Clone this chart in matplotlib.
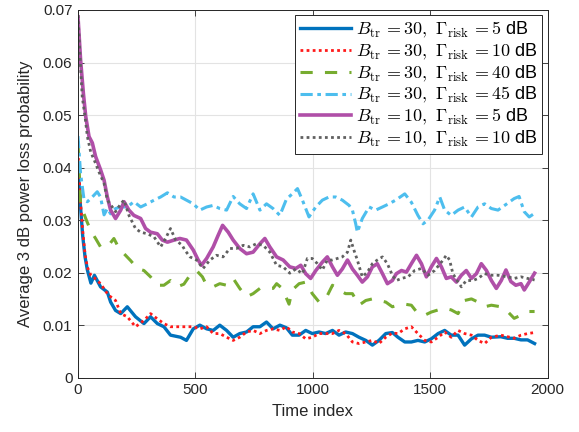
import numpy as np
import matplotlib
matplotlib.use("Agg")
import matplotlib.pyplot as plt

# ==== DATA ====
t_blue = [0, 10, 20, 30, 40, 55, 70, 96, 125, 139, 160, 182, 210, 245, 281, 309, 338, 366, 394, 437,
          462, 491, 519, 548, 576, 604, 633, 661, 689, 718, 746, 775, 803, 831, 860, 888, 913, 942, 970,
          998, 1027, 1055, 1084, 1112, 1140, 1169, 1197, 1226, 1254, 1282, 1311, 1339, 1363, 1392, 1420,
          1448, 1477, 1505, 1534, 1562, 1590, 1619, 1647, 1676, 1704, 1732, 1761, 1801, 1830, 1858, 1887,
          1915, 1945]
p_blue = [0.040, 0.033, 0.027, 0.023, 0.0205, 0.018, 0.0195, 0.0173, 0.0163, 0.0144, 0.0128, 0.0122,
          0.0135, 0.0116, 0.0103, 0.0116, 0.0103, 0.0097, 0.0081, 0.0077, 0.0071, 0.0093, 0.0100, 0.0093,
          0.0090, 0.0100, 0.0090, 0.0077, 0.0084, 0.0087, 0.0097, 0.0097, 0.0106, 0.0093, 0.0100, 0.0095,
          0.0081, 0.0081, 0.0090, 0.0084, 0.0087, 0.0084, 0.0090, 0.0081, 0.0087, 0.0084, 0.0077, 0.0071,
          0.0062, 0.0071, 0.0084, 0.0086, 0.0077, 0.0068, 0.0068, 0.0071, 0.0068, 0.0074, 0.0084, 0.0090,
          0.0081, 0.0081, 0.0062, 0.0074, 0.0081, 0.0081, 0.0077, 0.0078, 0.0075, 0.0075, 0.0072, 0.0072,
          0.0065]

t_red = t_blue
p_red = [0.043, 0.034, 0.028, 0.0235, 0.021, 0.0195, 0.019, 0.0179, 0.016, 0.0154, 0.0147, 0.0122,
         0.0116, 0.0097, 0.0109, 0.0122, 0.0112, 0.0103, 0.0097, 0.0097, 0.0097, 0.0097, 0.0093, 0.0097,
         0.0084, 0.0084, 0.0077, 0.0071, 0.0077, 0.0087, 0.0090, 0.0084, 0.0090, 0.0093, 0.0090, 0.0097,
         0.0087, 0.0084, 0.0074, 0.0077, 0.0084, 0.0084, 0.0084, 0.0090, 0.0084, 0.0068, 0.0065, 0.0068,
         0.0071, 0.0065, 0.0077, 0.0085, 0.0084, 0.0093, 0.0097, 0.0084, 0.0071, 0.0068, 0.0077, 0.0087,
         0.0077, 0.0090, 0.0084, 0.0081, 0.0071, 0.0065, 0.0077, 0.0081, 0.0078, 0.0075, 0.0081, 0.0084,
         0.0086]

t_green = [0, 11, 33, 54, 75, 96, 125, 153, 175, 196, 224, 253, 281, 309, 338, 366, 394, 423, 451, 477,
           505, 530, 548, 576, 604, 633, 661, 689, 718, 746, 775, 803, 831, 846, 870, 899, 913, 942, 970,
           998, 1027, 1055, 1084, 1112, 1140, 1169, 1197, 1226, 1254, 1282, 1311, 1339, 1363, 1392, 1420,
           1448, 1477, 1505, 1534, 1562, 1590, 1619, 1647, 1676, 1704, 1732, 1761, 1801, 1830, 1858, 1887,
           1915, 1945]
p_green = [0.045, 0.033, 0.0303, 0.028, 0.0265, 0.0249, 0.0249, 0.0265, 0.0246, 0.0236, 0.0223, 0.0208,
           0.0204, 0.0192, 0.0176, 0.0176, 0.0185, 0.0173, 0.0178, 0.0195, 0.0204, 0.0192, 0.0176, 0.0173,
           0.0179, 0.0176, 0.0189, 0.0170, 0.0154, 0.0160, 0.0170, 0.0170, 0.0170, 0.0179, 0.0170, 0.0140,
           0.0167, 0.0179, 0.0182, 0.0160, 0.0144, 0.0150, 0.0176, 0.0167, 0.0160, 0.0160, 0.0138, 0.0147,
           0.0150, 0.0147, 0.0144, 0.0135, 0.0138, 0.0140, 0.0138, 0.0122, 0.0119, 0.0125, 0.0129, 0.0132,
           0.0129, 0.0122, 0.0147, 0.0150, 0.0144, 0.0135, 0.0138, 0.0135, 0.0126, 0.0113, 0.0119, 0.0126,
           0.0126]

t_cyan = [0, 11, 26, 40, 61, 82, 96, 111, 125, 139, 160, 182, 210, 238, 267, 295, 324, 352, 381, 409,
          437, 462, 491, 519, 548, 576, 604, 633, 661, 689, 718, 746, 775, 803, 831, 860, 888, 913, 935,
          956, 984, 1013, 1041, 1069, 1098, 1126, 1155, 1169, 1183, 1190, 1211, 1240, 1268, 1297, 1325,
          1353, 1392, 1420, 1448, 1470, 1491, 1519, 1541, 1562, 1590, 1619, 1647, 1676, 1704, 1732, 1761,
          1789, 1830, 1858, 1879, 1901, 1922, 1945]
p_cyan = [0.046, 0.0389, 0.0338, 0.0335, 0.0344, 0.0354, 0.0344, 0.031, 0.0322, 0.0312, 0.0322, 0.0325,
          0.0325, 0.0335, 0.0325, 0.0331, 0.0338, 0.0344, 0.0352, 0.0344, 0.0344, 0.0338, 0.0331, 0.0319,
          0.0325, 0.0328, 0.0322, 0.0319, 0.0345, 0.0331, 0.0322, 0.0350, 0.0319, 0.0331, 0.0322, 0.0309,
          0.0340, 0.0350, 0.0360, 0.0338, 0.0306, 0.0325, 0.0338, 0.0344, 0.0344, 0.0338, 0.0328, 0.0319,
          0.0293, 0.0277, 0.0303, 0.0325, 0.0319, 0.0325, 0.0331, 0.0338, 0.0350, 0.0334, 0.0309, 0.0293,
          0.0300, 0.0319, 0.0344, 0.0319, 0.0309, 0.0319, 0.0325, 0.0306, 0.0325, 0.0331, 0.0322, 0.0319,
          0.0332, 0.0341, 0.0345, 0.0316, 0.0306, 0.0313]

t_mag = [0, 11, 23, 33, 47, 61, 75, 96, 111, 125, 139, 160, 182, 196, 217, 238, 267, 288, 309, 338, 359,
         381, 409, 434, 462, 491, 512, 526, 548, 576, 597, 616, 640, 661, 689, 718, 746, 775, 796, 817, 846,
         874, 902, 928, 949, 970, 991, 1013, 1041, 1062, 1084, 1105, 1126, 1148, 1169, 1190, 1211, 1233,
         1254, 1275, 1297, 1318, 1339, 1356, 1378, 1399, 1420, 1442, 1463, 1484, 1505, 1527, 1548, 1569,
         1590, 1612, 1633, 1654, 1676, 1697, 1718, 1740, 1761, 1782, 1803, 1823, 1844, 1865, 1887, 1901,
         1922, 1945]
p_mag = [0.0687, 0.0605, 0.0541, 0.0497, 0.0459, 0.0447, 0.0421, 0.0396, 0.0376, 0.0344, 0.0319, 0.0303,
         0.0319, 0.0335, 0.0319, 0.0309, 0.0303, 0.0284, 0.0277, 0.0274, 0.0262, 0.0258, 0.0262, 0.0265,
         0.0262, 0.0243, 0.0224, 0.0214, 0.0227, 0.0249, 0.0271, 0.0290, 0.0277, 0.0262, 0.0246, 0.0236,
         0.0239, 0.0255, 0.0265, 0.0249, 0.0230, 0.0224, 0.0211, 0.0208, 0.0214, 0.0198, 0.0189, 0.0204,
         0.0220, 0.0230, 0.0211, 0.0195, 0.0207, 0.0224, 0.0207, 0.0195, 0.0182, 0.0192, 0.0211, 0.0217,
         0.0198, 0.0179, 0.0185, 0.0198, 0.0204, 0.0201, 0.0217, 0.0233, 0.0217, 0.0192, 0.0211, 0.0227,
         0.0211, 0.0189, 0.0192, 0.0182, 0.0195, 0.0204, 0.0189, 0.0198, 0.0217, 0.0204, 0.0185, 0.0170,
         0.0185, 0.0205, 0.0183, 0.0176, 0.0179, 0.0167, 0.0182, 0.0199]

t_gray = [0, 11, 18, 30, 40, 54, 75, 89, 111, 125, 146, 160, 182, 196, 217, 245, 267, 295, 324, 352, 373,
          394, 416, 444, 455, 477, 505, 533, 562, 590, 618, 647, 675, 704, 732, 760, 789, 817, 846, 874,
          902, 928, 956, 977, 998, 1020, 1041, 1062, 1084, 1105, 1126, 1148, 1162, 1176, 1190, 1211, 1233,
          1254, 1275, 1297, 1318, 1339, 1356, 1378, 1406, 1434, 1463, 1491, 1519, 1548, 1569, 1583, 1597,
          1619, 1633, 1654, 1683, 1704, 1732, 1761, 1789, 1830, 1858, 1887, 1915, 1945]
p_gray = [0.069, 0.0592, 0.0535, 0.0497, 0.0459, 0.043, 0.0408, 0.0392, 0.037, 0.0338, 0.0325, 0.0316,
          0.0331, 0.0338, 0.0309, 0.0284, 0.0277, 0.0274, 0.0268, 0.0249, 0.0265, 0.0284, 0.0262, 0.0252,
          0.0243, 0.0230, 0.0224, 0.0208, 0.0224, 0.0233, 0.0230, 0.0246, 0.0246, 0.0252, 0.0249, 0.0255,
          0.0252, 0.0239, 0.0214, 0.0211, 0.0199, 0.0207, 0.0198, 0.0227, 0.0227, 0.0217, 0.0205, 0.0224,
          0.0224, 0.0227, 0.0230, 0.0239, 0.0262, 0.0242, 0.0224, 0.0192, 0.0201, 0.0217, 0.0224, 0.0230,
          0.0217, 0.0195, 0.0185, 0.0189, 0.0192, 0.0204, 0.0208, 0.0195, 0.0204, 0.0220, 0.0233, 0.0224,
          0.0198, 0.0182, 0.0173, 0.0185, 0.0185, 0.0189, 0.0198, 0.0195, 0.0195, 0.0192, 0.0189, 0.0192,
          0.0189, 0.0186]

labels = [
    r"$B_{\mathrm{tr}}\,=30,\ \Gamma_{\mathrm{risk}}\,=5$ dB",
    r"$B_{\mathrm{tr}}\,=30,\ \Gamma_{\mathrm{risk}}\,=10$ dB",
    r"$B_{\mathrm{tr}}\,=30,\ \Gamma_{\mathrm{risk}}\,=40$ dB",
    r"$B_{\mathrm{tr}}\,=30,\ \Gamma_{\mathrm{risk}}\,=45$ dB",
    r"$B_{\mathrm{tr}}\,=10,\ \Gamma_{\mathrm{risk}}\,=5$ dB",
    r"$B_{\mathrm{tr}}\,=10,\ \Gamma_{\mathrm{risk}}\,=10$ dB",
]

# ==== STYLE ====
plt.rcParams["font.family"] = ["Liberation Sans", "DejaVu Sans"]
plt.rcParams["mathtext.fontset"] = "cm"

fig = plt.figure(figsize=(5.79, 4.32), dpi=100)
ax = fig.add_axes([0.1347, 0.1257, 0.8109, 0.8512])

ax.plot(t_blue, p_blue, color="#0072BD", lw=2.4, ls="-", label=labels[0])
ax.plot(t_red, p_red, color="#FF1A1A", lw=2.0, ls=(0, (1, 1.2)), label=labels[1])
ax.plot(t_green, p_green, color="#77AC30", lw=2.2, ls=(0, (4, 4)), label=labels[2])
ax.plot(t_cyan, p_cyan, color="#4DBEEE", lw=2.2, ls=(0, (4, 1.5, 1.2, 1.5)), label=labels[3])
ax.plot(t_mag, p_mag, color="#B04FA8", lw=2.6, ls="-", label=labels[4])
ax.plot(t_gray, p_gray, color="#606060", lw=2.0, ls=(0, (1, 1.2)), label=labels[5])

ax.set_xlim(0, 2000)
ax.set_ylim(0, 0.07)
ax.set_xticks([0, 500, 1000, 1500, 2000])
ax.set_yticks(np.arange(0, 0.0701, 0.01))
ax.set_yticklabels(["0", "0.01", "0.02", "0.03", "0.04", "0.05", "0.06", "0.07"])
ax.tick_params(direction="in", top=True, right=True, labelsize=11, length=4,
               width=0.6, colors="#262626", pad=4)
ax.grid(True, color="#e3e3e3", lw=0.8)
ax.set_axisbelow(True)
for s in ax.spines.values():
    s.set_color("#262626")
    s.set_linewidth(0.7)

ax.set_xlabel("Time index", fontsize=12, color="#262626", labelpad=5)
ax.set_ylabel("Average 3 dB power loss probability", fontsize=12, color="#262626", labelpad=7)

leg = ax.legend(loc="upper right", fontsize=13, handlelength=2.8, handletextpad=0.3,
                labelspacing=0.1, borderpad=0.25, borderaxespad=0.3, fancybox=False,
                framealpha=1, edgecolor="#262626")
leg.get_frame().set_linewidth(0.7)

fig.savefig("out.png", dpi=100)
